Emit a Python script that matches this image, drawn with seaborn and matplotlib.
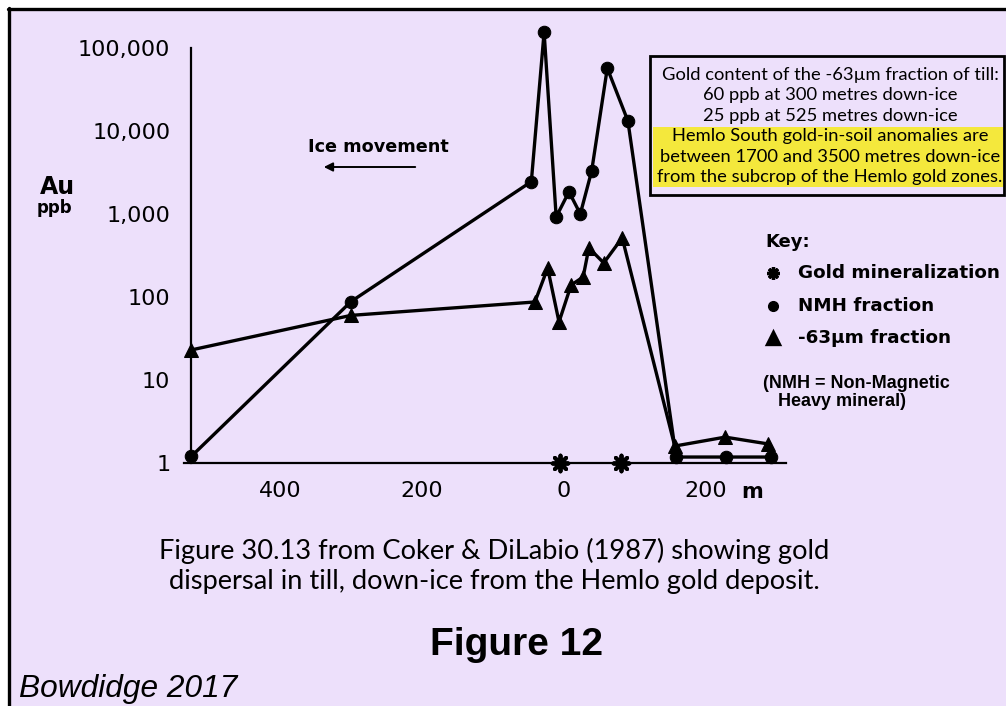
import numpy as np
import pandas as pd
import matplotlib.pyplot as plt
import seaborn as sns
from matplotlib.patches import Rectangle, FancyArrowPatch
from matplotlib.lines import Line2D

# ===========================
# Data (distance in metres, negative = up-ice of the subcrop)
# ===========================
nmh_dist = [-525, -300, -46, -28, -11, 7, 23, 39, 61, 90, 158, 228, 292]
nmh_au = [1.2, 88, 2450, 155000, 920, 1850, 1000, 3300, 57000, 13200, 1.18, 1.18, 1.18]

fine_dist = [-525, -300, -41, -23, -7, 10, 27, 35, 56, 82, 156, 227, 287]
fine_au = [23, 60, 87, 223, 50, 139, 174, 390, 257, 515, 1.6, 2.05, 1.7]

gold_dist = [-5, 80]
gold_au = [1, 1]

ytick_vals = [1, 10, 100, 1000, 10000, 100000]
ytick_labels = ["1", "10", "100", "1,000", "10,000", "100,000"]
xtick_vals = [-400, -200, 0, 200]
xtick_labels = ["400", "200", "0", "200"]

box_lines = ["Gold content of the -63\u00b5m fraction of till:",
             "60 ppb at 300 metres down-ice",
             "25 ppb at 525 metres down-ice"]
box_yellow = ["Hemlo South gold-in-soil anomalies are",
              "between 1700 and 3500 metres down-ice",
              "from the subcrop of the Hemlo gold zones."]

df_nmh = pd.DataFrame({"dist": nmh_dist, "au": nmh_au})
df_fine = pd.DataFrame({"dist": fine_dist, "au": fine_au})
df_gold = pd.DataFrame({"dist": gold_dist, "au": gold_au})

# ===========================
# Figure setup
# ===========================
sns.set_style("white")
plt.rcParams["text.color"] = "black"
W, H = 1006, 706
BG = "#EDE0FB"


def fx(px):
    return px / W


def fy(py):
    return 1 - py / H


fig = plt.figure(figsize=(W / 100, H / 100), dpi=100, facecolor="white")
fig.patches.append(Rectangle((fx(9), 0), 1 - fx(9), fy(9), transform=fig.transFigure,
                             facecolor=BG, edgecolor="none", zorder=-10))
fig.add_artist(Line2D([fx(9), fx(9)], [0, fy(8)], color="black", lw=2.4, zorder=-5))
fig.add_artist(Line2D([fx(8), 1], [fy(9), fy(9)], color="black", lw=2.4, zorder=-5))

# x: px = 564 + 0.71 * metres ; y: one decade = 83 px, value 1 at py = 463
ax = fig.add_axes([fx(191.25), fy(463), (785.5 - 191.25) / W, (463 - 23) / H])
ax.set_facecolor("none")
ax.set_zorder(0)

sns.lineplot(data=df_nmh, x="dist", y="au", ax=ax, color="black", lw=2.4,
             marker="o", markersize=9, markeredgecolor="black", sort=False, estimator=None,
             clip_on=False)
sns.lineplot(data=df_fine, x="dist", y="au", ax=ax, color="black", lw=2.4,
             marker="^", markersize=10, markeredgecolor="black", sort=False, estimator=None,
             clip_on=False)
sns.scatterplot(data=df_gold, x="dist", y="au", ax=ax, color="black",
                marker=(8, 2, 0), s=130, linewidth=2.8, clip_on=False, zorder=5)

ax.set_yscale("log")
ax.set_ylim(1, 10 ** 5.3)
ax.set_xlim(-525, 312)
ax.set_yticks(ytick_vals)
ax.set_yticklabels(ytick_labels)
ax.set_xticks(xtick_vals)
ax.set_xticklabels(xtick_labels)
ax.minorticks_off()
ax.set_xlabel("")
ax.set_ylabel("")

for s in ["top", "right"]:
    ax.spines[s].set_visible(False)
for s in ["left", "bottom"]:
    ax.spines[s].set_color("black")
    ax.spines[s].set_linewidth(1.6)
ax.spines["left"].set_bounds(1, 100000)
ax.spines["bottom"].set_bounds(-535, 312)

ax.tick_params(axis="both", direction="out", length=6, width=1.5, color="black",
               labelsize=16, labelcolor="black")
ax.tick_params(axis="y", pad=9)
ax.tick_params(axis="x", pad=7)
for lab in ax.get_xticklabels() + ax.get_yticklabels():
    lab.set_family("DejaVu Sans")

fig.text(fx(741), fy(492), "m", fontsize=15, fontweight="bold", ha="left", va="center",
         family="DejaVu Sans")

# axis title
fig.text(fx(57), fy(187), "Au", fontsize=17, fontweight="bold", ha="center", va="center",
         family="DejaVu Sans")
fig.text(fx(54), fy(208), "ppb", fontsize=12, fontweight="bold", ha="center", va="center",
         family="DejaVu Sans")

# ice movement arrow
fig.text(fx(378), fy(147), "Ice movement", fontsize=12.7, fontweight="bold", ha="center",
         va="center", family="DejaVu Sans")
fig.add_artist(FancyArrowPatch((fx(418), fy(167)), (fx(321), fy(167)),
                               transform=fig.transFigure, arrowstyle="-|>",
                               mutation_scale=13, lw=1.4, color="black"))

# information box
fig.patches.append(Rectangle((fx(650), fy(195)), fx(1004) - fx(650), fy(56) - fy(195),
                             transform=fig.transFigure, facecolor=BG,
                             edgecolor="black", lw=2, zorder=1))
fig.patches.append(Rectangle((fx(653), fy(187)), fx(1003) - fx(653), fy(127) - fy(187),
                             transform=fig.transFigure, facecolor="#F4E83C",
                             edgecolor="none", zorder=2))
for i, t in enumerate(box_lines + box_yellow):
    fig.text(fx(830), fy(75 + i * 20.4), t, fontsize=13.2, ha="center", va="center",
             family="Lato", color="black", zorder=3)

# key
fig.text(fx(765), fy(242), "Key:", fontsize=13, fontweight="bold", ha="left", va="center",
         family="DejaVu Sans")
key_items = [((8, 2, 0), "Gold mineralization", 273),
             ("o", "NMH fraction", 306),
             ("^", "-63\u00b5m fraction", 338)]
for mk, label, py in key_items:
    fig.add_artist(Line2D([fx(773)], [fy(py)], marker=mk, markersize=9 if mk != "o" else 7,
                          color="black", markeredgewidth=2.4 if mk != "o" else 1, lw=0))
    fig.text(fx(798), fy(py), label, fontsize=13.2, fontweight="bold", ha="left", va="center",
             family="DejaVu Sans")
fig.text(fx(763), fy(383), "(NMH = Non-Magnetic", fontsize=13, fontweight="bold",
         ha="left", va="center", family="Liberation Sans")
fig.text(fx(778), fy(402), "Heavy mineral)", fontsize=13, fontweight="bold",
         ha="left", va="center", family="Liberation Sans")

# captions
fig.text(fx(494), fy(551), "Figure 30.13 from Coker & DiLabio (1987) showing gold",
         fontsize=19.6, ha="center", va="center", family="Lato", color="black")
fig.text(fx(494), fy(582), "dispersal in till, down-ice from the Hemlo gold deposit.",
         fontsize=19.6, ha="center", va="center", family="Lato", color="black")
fig.text(fx(516), fy(645), "Figure 12", fontsize=28, fontweight="bold", ha="center",
         va="center", family="Liberation Sans")
fig.text(fx(19), fy(689), "Bowdidge 2017", fontsize=22.8, style="italic", ha="left",
         va="center", family="Liberation Sans")

fig.savefig("out.png", dpi=100, facecolor="white")
